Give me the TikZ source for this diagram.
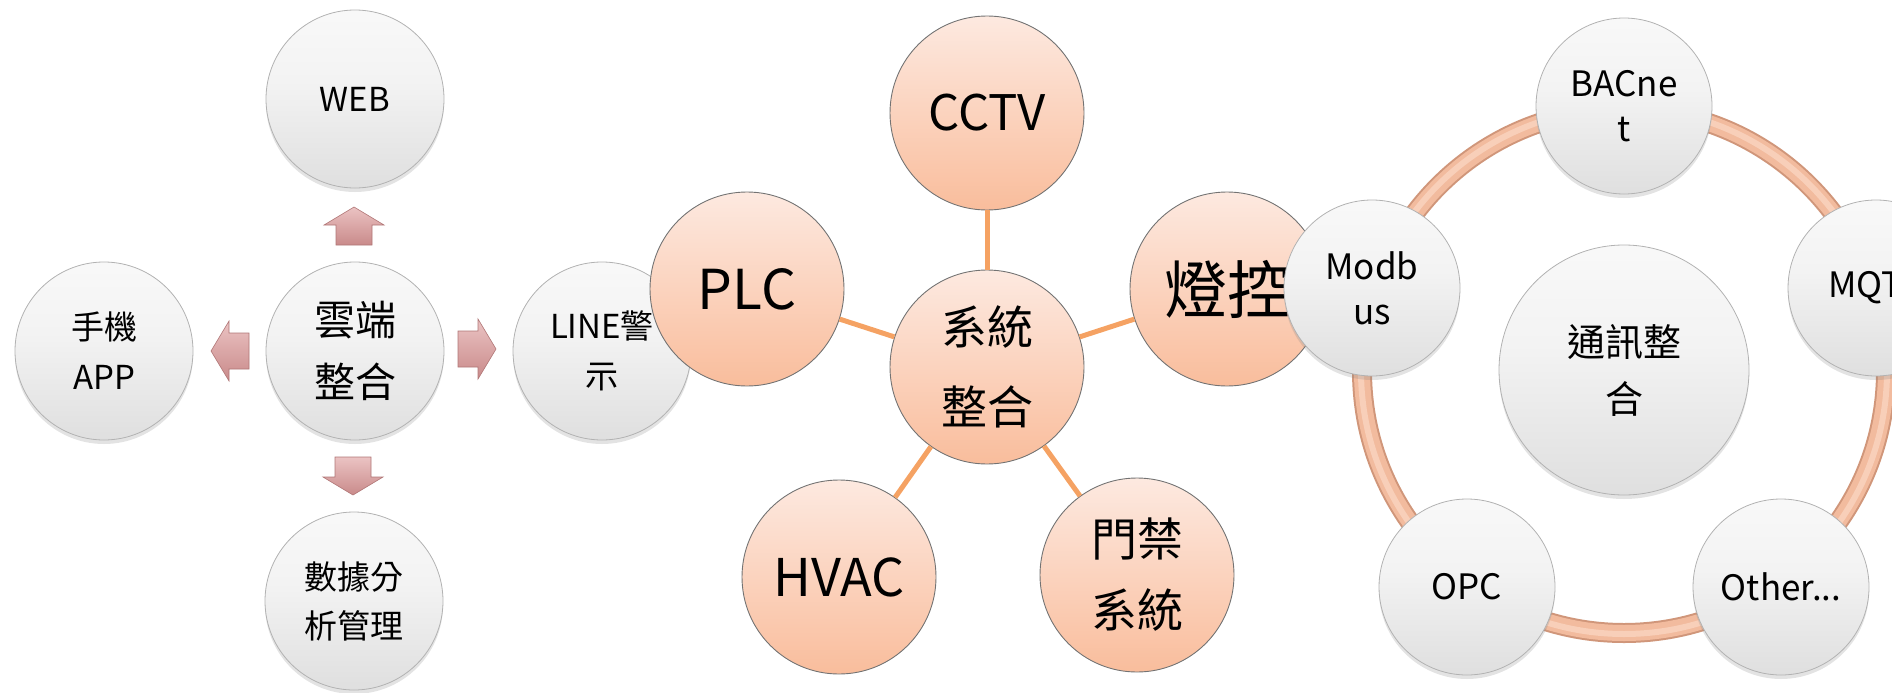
\documentclass[tikz,border=0pt]{standalone}
\usepackage{fontspec}
\setmainfont{Noto Sans CJK TC}
\usetikzlibrary{shapes.geometric,shadows}
\definecolor{peachtop}{HTML}{FDE9E0}
\definecolor{peachbot}{HTML}{F9BD9C}
\definecolor{connc}{HTML}{F5A263}
\definecolor{ringc}{HTML}{F2BB9E}
\definecolor{ringhi}{HTML}{F8CFB9}
\definecolor{ringedge}{HTML}{D0967A}
\definecolor{arrtop}{HTML}{EBC3C3}
\definecolor{arrbot}{HTML}{C98A8A}
\definecolor{arredge}{HTML}{B07676}
\definecolor{wa}{HTML}{C9C9C9}
\definecolor{wb}{HTML}{DDDDDD}
\definecolor{wc}{HTML}{F3F3F3}
\pgfdeclareverticalshading{wshade}{100bp}{color(0bp)=(wa); color(22bp)=(wb); color(55bp)=(wc); color(100bp)=(white)}
\tikzset{
  wcirc/.style={circle, minimum size=178pt, inner sep=0pt, draw=gray!60, line width=0.8pt,
    shading=wshade, align=center,
    drop shadow={opacity=0.22, shadow xshift=0pt, shadow yshift=-4pt}},
  pcirc/.style={circle, minimum size=194pt, inner sep=0pt, draw=black!55, line width=0.9pt,
    top color=peachtop, bottom color=peachbot, align=center},
  rcirc/.style={wcirc, minimum size=176pt, font=\fontsize{35}{45}\selectfont},
  conn/.style={draw=connc, line width=5pt},
  blkarrow/.style={draw=arredge, line width=0.6pt, top color=arrtop, bottom color=arrbot},
  fs/.style={font=\fontsize{33}{50}\selectfont},
}
\begin{document}
\begin{tikzpicture}[x=1pt,y=-1pt]
\clip (0,0) rectangle (1892,693);
% ---------- left group ----------
\node[wcirc, fs] (app) at (104,351) {手機\\APP};
\node[wcirc, fs] (web) at (355,99) {WEB};
\node[wcirc, font=\fontsize{41}{62}\selectfont] (cloud) at (355,351) {雲端\\整合};
\node[wcirc, fs] (line) at (602,351) {LINE警\\示};
\node[wcirc, font=\fontsize{33}{49}\selectfont] (data) at (354,601) {數據分\\析管理};
\path[blkarrow, shift={(354,226)}, rotate=90]
  (-19,-18) -- (1,-18) -- (1,-30) -- (19,0) -- (1,30) -- (1,18) -- (-19,18) -- cycle;
\path[blkarrow, shift={(353,476)}, rotate=-90]
  (-19,-18) -- (1,-18) -- (1,-30) -- (19,0) -- (1,30) -- (1,18) -- (-19,18) -- cycle;
\path[blkarrow, shift={(230,351)}, rotate=180]
  (-19,-18) -- (1,-18) -- (1,-30) -- (19,0) -- (1,30) -- (1,18) -- (-19,18) -- cycle;
\path[blkarrow, shift={(477,349)}]
  (-19,-18) -- (1,-18) -- (1,-30) -- (19,0) -- (1,30) -- (1,18) -- (-19,18) -- cycle;
% ---------- middle group ----------
\node[pcirc, font=\fontsize{49}{60}\selectfont] (cctv) at (987,113) {CCTV};
\node[pcirc, font=\fontsize{55}{66}\selectfont] (plc) at (747,289) {PLC};
\node[pcirc, font=\fontsize{63}{75}\selectfont] (light) at (1227,289) {燈控};
\node[pcirc, font=\fontsize{52}{62}\selectfont] (hvac) at (839,577) {HVAC};
\node[pcirc, font=\fontsize{46}{71}\selectfont] (door) at (1137,575) {門禁\\系統};
\node[pcirc, font=\fontsize{46}{80}\selectfont] (sys) at (987,367) {系統\\整合};
\draw[conn] (cctv) -- (sys);
\draw[conn] (plc) -- (sys);
\draw[conn] (light) -- (sys);
\draw[conn] (hvac) -- (sys);
\draw[conn] (door) -- (sys);
% ---------- right group ----------
\coordinate (ringc) at (1624,371);
\draw[ringedge, line width=20pt] (ringc) circle [radius=262];
\draw[ringc, line width=16pt] (ringc) circle [radius=262];
\draw[ringhi, line width=6pt] (ringc) circle [radius=263];
\node[wcirc, minimum size=250pt, font=\fontsize{38}{57}\selectfont] (comm) at (1624,370) {通訊整\\合};
\node[rcirc] (bac) at (1624,106) {BACne\\t};
\node[rcirc] (modbus) at (1372,288) {Modb\\us};
\node[rcirc] (mqtt) at (1876,288) {MQTT};
\node[rcirc] (opc) at (1467,587) {OPC};
\node[rcirc] (other) at (1781,587) {Other...};
\end{tikzpicture}
\end{document}
